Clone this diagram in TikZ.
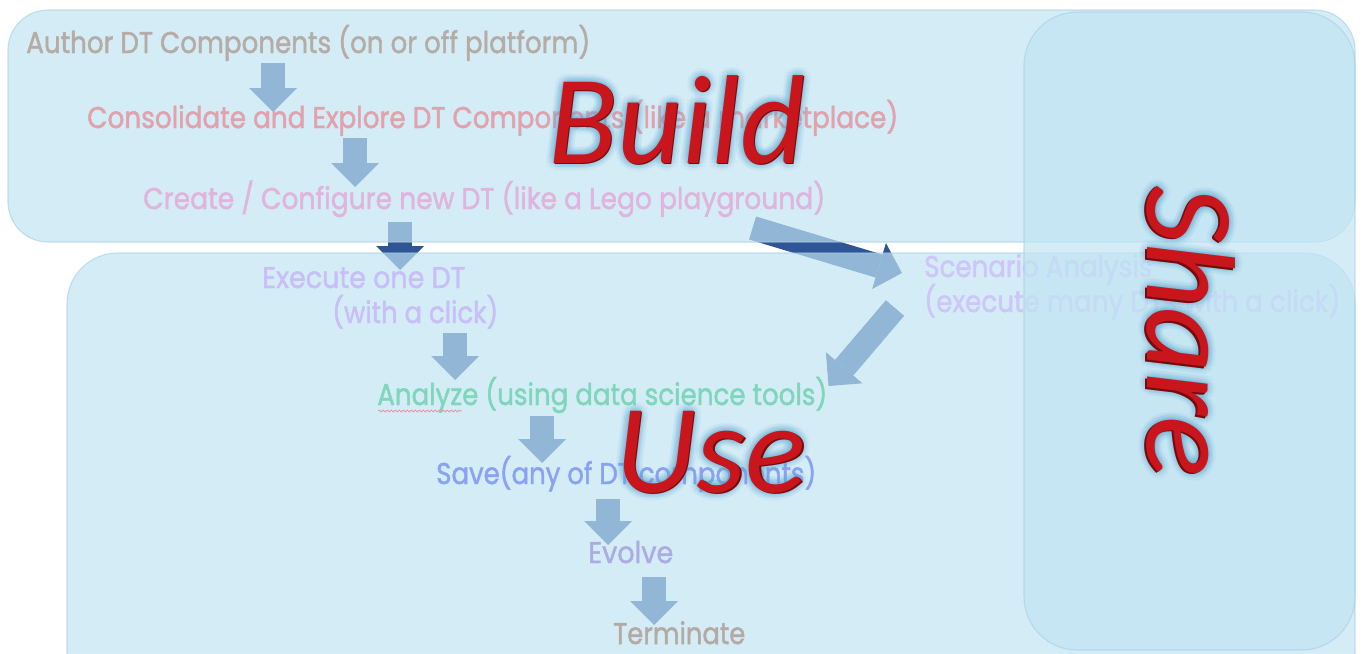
\documentclass[tikz,border=0pt]{standalone}
\usepackage{fontspec}
\setmainfont{Poppins}[FakeBold=1.6]
\newfontfamily\bigf{Carlito}
\usetikzlibrary{arrows.meta,calc,decorations.pathmorphing}
\newdimen\pxu \pxu=0.75pt
\newcommand\fitw[2]{\resizebox{#1\pxu}{\height}{#2}}
\definecolor{boxfill}{RGB}{193,228,243}
\definecolor{boxline}{RGB}{165,205,230}
\definecolor{arrdark}{RGB}{47,85,151}
\definecolor{bigred}{RGB}{200,22,28}
\definecolor{bigdark}{RGB}{120,10,12}
\definecolor{glowc}{RGB}{90,170,212}
\definecolor{cAuthor}{RGB}{182,172,166}
\definecolor{cConsol}{RGB}{224,162,172}
\definecolor{cCreate}{RGB}{224,180,220}
\definecolor{cExec}{RGB}{200,190,248}
\definecolor{cScen}{RGB}{206,198,250}
\definecolor{cAnalyze}{RGB}{128,214,188}
\definecolor{cSave}{RGB}{138,162,244}
\definecolor{cEvolve}{RGB}{172,172,228}
\definecolor{cTerm}{RGB}{180,170,164}
\definecolor{cWavy}{RGB}{232,150,162}
\pgfdeclarelayer{bg}\pgfdeclarelayer{arr}\pgfdeclarelayer{boxes}\pgfdeclarelayer{share}\pgfdeclarelayer{big}
\pgfsetlayers{bg,arr,boxes,main,share,big}
\begin{document}
\begin{tikzpicture}[x=0.75pt,y=-0.75pt,
  lbl/.style={inner sep=0pt, anchor=base west, font=\fontsize{22.5pt}{26pt}\selectfont},
  zone/.style={fill=boxfill, fill opacity=0.68, draw=boxline, draw opacity=0.6, line width=0.8pt, rounded corners=30pt},
  blk/.style={draw=arrdark, line width=18pt, -{Triangle[width=36pt,length=18pt,line width=0pt]}},
  bigtxt/.style={inner sep=0pt, anchor=base west, font=\bigf\itshape\fontsize{95pt}{100pt}\selectfont},
]
\useasboundingbox (0,0) rectangle (1363,653);
\begin{pgfonlayer}{bg}
\fill[white] (0,0) rectangle (1363,653);
\end{pgfonlayer}

% ---------- boxes ----------
\begin{pgfonlayer}{boxes}
\draw[zone] (8,10) rectangle (1355,242);
\draw[zone, rounded corners=38pt] (67,253) rectangle (1355,720);
\end{pgfonlayer}
\begin{pgfonlayer}{share}
\draw[zone, rounded corners=40pt] (1024,12) rectangle (1355,650);
\end{pgfonlayer}

% ---------- texts ----------
\node[lbl, text=cAuthor] (author) at (26,53) {\fitw{564}{Author DT Components (on or off platform)}};
\node[lbl, text=cConsol] (consol) at (87,128) {\fitw{811}{Consolidate and Explore DT Components (like a marketplace)}};
\node[lbl, text=cCreate] (create) at (143,209) {\fitw{682}{Create / Configure new DT (like a Lego playground)}};
\node[lbl, text=cExec] (exec) at (262,288) {\fitw{203}{Execute one DT}};
\node[lbl, text=cExec] (execb) at (332,323) {\fitw{166}{(with a click)}};
\node[lbl, text=cScen] (scen) at (924,277) {\fitw{228}{Scenario Analysis}};
\node[lbl, text=cScen] (scenb) at (924,312) {\fitw{416}{(execute many DTs with a click)}};
\node[lbl, text=cAnalyze] (analyze) at (377,405) {\fitw{450}{Analyze (using data science tools)}};
\node[lbl, text=cSave] (save) at (436,484) {\fitw{380}{Save(any of DT components)}};
\node[lbl, text=cEvolve] (evolve) at (588,563) {\fitw{85}{Evolve}};
\node[lbl, text=cTerm] (term) at (613,644) {\fitw{132}{Terminate}};
\draw[cWavy, line width=0.6pt, decorate, decoration={snake, amplitude=0.7pt, segment length=3pt}]
  ($(analyze.base west)+(1,6)$) -- ($(analyze.base west)+(85,6)$);

% ---------- arrows ----------
\begin{pgfonlayer}{arr}
\draw[blk] ($(author.base -| 273,0)+(0,10)$) -- ($(consol.base -| 273,0)+(0,-16)$);
\draw[blk] ($(consol.base -| 355,0)+(0,10)$) -- ($(create.base -| 355,0)+(0,-22)$);
\draw[blk] ($(create.base -| 400,0)+(0,13)$) -- ($(exec.base -| 400,0)+(0,-18)$);
\draw[blk] ($(execb.base -| 455,0)+(0,10)$) -- ($(analyze.base -| 455,0)+(0,-25)$);
\draw[blk] ($(analyze.base -| 542,0)+(0,11)$) -- ($(save.base -| 542,0)+(0,-21)$);
\draw[blk] ($(save.base -| 608,0)+(0,15)$) -- ($(evolve.base -| 608,0)+(0,-18)$);
\draw[blk] ($(evolve.base -| 654,0)+(0,14)$) -- ($(term.base -| 654,0)+(0,-19)$);
\draw[blk] ($(create.base east)+(-73,19)$) -- ($(scen.base west)+(-22,-4)$);
\draw[blk] ($(scenb.base west)+(-29,-4)$) -- ($(analyze.base east)+(1,-19)$);
\end{pgfonlayer}

% ---------- big labels ----------
\begin{pgfonlayer}{big}
\foreach \a in {0,30,...,330}{
  \foreach \r/\o in {8/0.05,5/0.06,2/0.06}{
    \node[bigtxt, text=glowc, opacity=\o] (gb\a r\r) at ($(548,163)+(\a:\r)$) {Build};
    \node[bigtxt, text=glowc, opacity=\o] (gu\a r\r) at ($(615,492)+(\a:\r)$) {Use};
    \node[bigtxt, text=glowc, opacity=\o, rotate=-90] (gs\a r\r) at ($(1147,185)+(\a:\r)$) {Share};
  }
}
\node[bigtxt, text=bigdark] (buildsh) at (549.5,164.5) {Build};
\node[bigtxt, text=bigdark] (usesh) at (616.5,493.5) {Use};
\node[bigtxt, text=bigdark, rotate=-90] (sharesh) at (1145.5,186.5) {Share};
\node[bigtxt, text=bigred] (build) at (548,163) {Build};
\node[bigtxt, text=bigred] (use) at (615,492) {Use};
\node[bigtxt, text=bigred, rotate=-90] (share) at (1147,185) {Share};
\end{pgfonlayer}
\end{tikzpicture}
\end{document}
